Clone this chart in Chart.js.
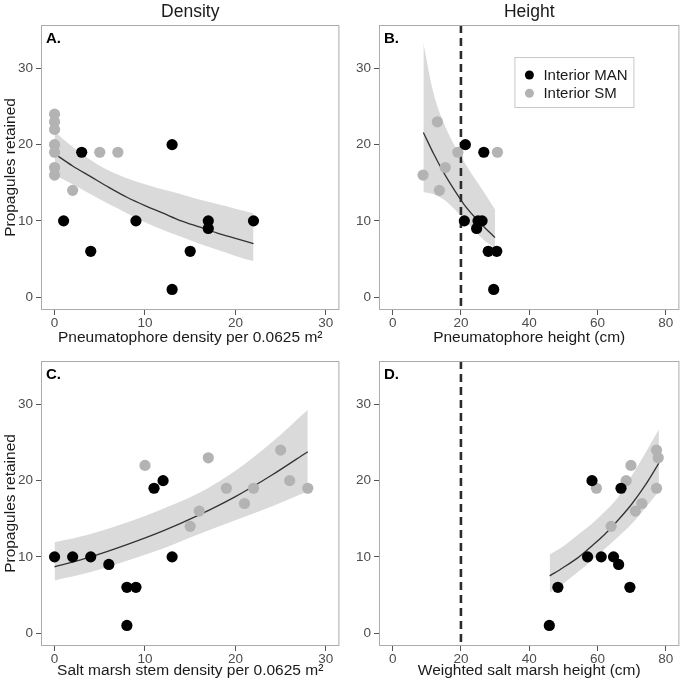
<!DOCTYPE html>
<html>
<head>
<meta charset="utf-8">
<script src="https://cdn.jsdelivr.net/npm/chart.js@4.4.1/dist/chart.umd.min.js"></script>
<style>
  body { margin: 0; background: #fff; }
  #wrap { position: relative; width: 685px; height: 687px; overflow: hidden; }
  canvas { position: absolute; }
</style>
</head>
<body>
<div id="wrap">
  <canvas id="chartA" width="345" height="350" style="left:0;top:0"></canvas>
  <canvas id="chartB" width="340" height="350" style="left:345px;top:0"></canvas>
  <canvas id="chartC" width="345" height="351" style="left:0;top:336px"></canvas>
  <canvas id="chartD" width="340" height="351" style="left:345px;top:336px"></canvas>
</div>
<script>
// ---- data ----
const seriesNames = ['Interior MAN', 'Interior SM'];

// A. pneumatophore density
const aManX = [3, 1, 4, 9, 13, 13, 15, 17, 17, 22];
const aManY = [19, 10, 6, 10, 20, 1, 6, 10, 9, 10];
const aSmX = [0, 0, 0, 0, 0, 0, 0, 2, 5, 7];
const aSmY = [24, 23, 22, 20, 19, 17, 16, 14, 19, 19];
const aFitX = [0, 2, 4, 6, 8, 10, 12, 14, 16, 18, 20, 22];
const aFitY = [18.8, 17.2, 15.8, 14.4, 13.1, 12.0, 11.0, 10.0, 9.2, 8.4, 7.7, 7.0];
const aFitHi = [21.7, 19.7, 18.0, 16.6, 15.6, 14.8, 14.1, 13.5, 12.8, 12.2, 11.6, 11.0];
const aFitLo = [16.0, 14.8, 13.5, 12.2, 11.0, 9.8, 8.8, 7.9, 7.0, 6.2, 5.4, 4.7];

// B. pneumatophore height
const bManX = [21.3, 26.7, 21.0, 25.0, 26.2, 24.6, 28.0, 30.5, 29.6];
const bManY = [20, 19, 10, 10, 10, 9, 6, 6, 1];
const bSmX = [8.9, 13.1, 13.7, 15.4, 19.1, 30.7];
const bSmY = [16, 23, 14, 17, 19, 19];
const bFitX = [9, 12, 15, 18, 21, 24, 27, 30];
const bFitY = [21.6, 18.8, 16.3, 14.1, 12.1, 10.5, 9.1, 7.8];
const bFitHi = [33.3, 26.7, 22.8, 20.0, 17.7, 15.6, 13.6, 11.5];
const bFitLo = [13.8, 13.5, 12.8, 11.6, 10.2, 8.7, 7.4, 6.4];

// C. salt marsh stem density
const cManX = [0, 2, 4, 6, 8, 9, 8, 11, 12, 13];
const cManY = [10, 10, 10, 9, 6, 6, 1, 19, 20, 10];
const cSmX = [10, 17, 15, 16, 19, 21, 22, 25, 26, 28];
const cSmY = [22, 23, 14, 16, 19, 17, 19, 24, 20, 19];
const cFitX = [0, 4, 8, 12, 16, 20, 24, 28];
const cFitY = [8.7, 10.0, 11.6, 13.4, 15.5, 17.9, 20.7, 23.8];
const cFitHi = [11.9, 13.0, 14.5, 16.3, 18.4, 21.3, 25.0, 29.3];
const cFitLo = [6.9, 8.0, 9.5, 11.1, 13.0, 14.8, 16.6, 18.6];

// D. weighted salt marsh height
const dManX = [45.9, 48.4, 58.4, 66.9, 57.1, 61.1, 64.7, 66.2, 69.5];
const dManY = [1, 6, 20, 19, 10, 10, 10, 9, 6];
const dSmX = [59.7, 64.0, 68.4, 69.8, 71.1, 73.0, 77.3, 77.8, 77.3];
const dSmY = [19, 14, 20, 22, 16, 17, 24, 23, 19];
const dFitX = [46, 50, 54, 58, 62, 66, 70, 74, 78];
const dFitY = [7.5, 8.6, 9.8, 11.3, 12.9, 14.8, 16.9, 19.4, 22.3];
const dFitHi = [10.3, 11.4, 12.8, 14.2, 15.9, 17.8, 20.6, 23.6, 26.7];
const dFitLo = [5.3, 6.5, 7.9, 9.4, 11.0, 12.6, 14.3, 16.4, 18.6];

// axes
const yTicks = [0, 10, 20, 30];
const yRange = [-1.7, 35.7];
const densityTicks = [0, 10, 20, 30];
const densityRange = [-1.5, 31.5];
const heightTicks = [0, 20, 40, 60, 80];
const heightRange = [-4, 84];
const vlineX = 20;

const FONT = "'Liberation Sans', Arial, Helvetica, sans-serif";
Chart.defaults.font.family = FONT;

function pairs(xs, ys) {
  return xs.map((x, i) => ({x: x, y: ys[i]}));
}

// frame, panel letter, column heading, legend
const decor = {
  id: 'decor',
  afterDraw(chart, args, opts) {
    const ctx = chart.ctx, ca = chart.chartArea;
    ctx.save();
    ctx.strokeStyle = '#ababab';
    ctx.lineWidth = 1;
    ctx.strokeRect(ca.left + 0.5, ca.top + 0.5, ca.right - ca.left - 1, ca.bottom - ca.top - 1);
    ctx.fillStyle = '#000';
    ctx.textAlign = 'left';
    ctx.textBaseline = 'alphabetic';
    ctx.font = 'bold 15px ' + FONT;
    ctx.fillText(opts.letter, ca.left + 5, ca.top + 18);
    if (opts.heading) {
      ctx.font = '17.5px ' + FONT;
      ctx.fillStyle = '#1a1a1a';
      ctx.textAlign = 'center';
      ctx.fillText(opts.heading, (ca.left + ca.right) / 2, ca.top - 8);
    }
    if (opts.legend) {
      const bx = ca.right - 165, by = ca.top + 32;
      ctx.strokeStyle = '#c8c8c8';
      ctx.strokeRect(bx + 0.5, by + 0.5, 119, 50);
      const items = chart.data.datasets.filter(d => d.label);
      ctx.font = '15px ' + FONT;
      ctx.textAlign = 'left';
      ctx.textBaseline = 'middle';
      items.forEach((d, i) => {
        const cy = by + 18 + i * 18.3;
        ctx.fillStyle = d.backgroundColor;
        ctx.beginPath();
        ctx.arc(bx + 15, cy, 4.5, 0, Math.PI * 2);
        ctx.fill();
        ctx.fillStyle = '#1a1a1a';
        ctx.fillText(d.label, bx + 29, cy + 1);
      });
    }
    ctx.restore();
  }
};

function xAxis(range, ticks, title, axisH, titlePad) {
  return {
    type: 'linear', position: 'bottom', min: range[0], max: range[1],
    afterBuildTicks: s => { s.ticks = ticks.map(v => ({value: v})); },
    afterFit: s => { s.height = axisH; s.paddingLeft = 0; s.paddingRight = 0; },
    ticks: {color: '#4d4d4d', font: {size: 13.5}, padding: 0, maxRotation: 0, autoSkip: false},
    grid: {drawOnChartArea: false, drawTicks: true, tickLength: 5, tickColor: '#555'},
    border: {display: false},
    title: {display: true, text: title, color: '#1a1a1a', font: {size: 15.5}, padding: {top: 0, bottom: titlePad}}
  };
}

function yAxis(axisW, withTitle) {
  return {
    type: 'linear', position: 'left', min: yRange[0], max: yRange[1],
    afterBuildTicks: s => { s.ticks = yTicks.map(v => ({value: v})); },
    afterFit: s => { s.width = axisW; s.paddingTop = 0; s.paddingBottom = 0; },
    ticks: {color: '#4d4d4d', font: {size: 13.5}, padding: 3},
    grid: {drawOnChartArea: false, drawTicks: true, tickLength: 5, tickColor: '#555'},
    border: {display: false},
    title: {display: withTitle, text: 'Propagules retained', color: '#1a1a1a', font: {size: 15.5}, padding: {top: 1, bottom: 0}}
  };
}

function panelDatasets(p) {
  const sets = [
    {label: seriesNames[0], type: 'scatter', data: pairs(p.manX, p.manY), backgroundColor: '#000000',
     pointRadius: 5.6, borderWidth: 0, order: 1},
    {label: seriesNames[1], type: 'scatter', data: pairs(p.smX, p.smY), backgroundColor: '#b3b3b3',
     pointRadius: 5.6, borderWidth: 0, order: 2},
    {type: 'line', data: pairs(p.fitX, p.fitY), borderColor: '#333333', borderWidth: 1.3,
     pointRadius: 0, fill: false, cubicInterpolationMode: 'monotone', order: 3},
    {type: 'line', data: pairs(p.fitX, p.hi), borderColor: 'rgba(0,0,0,0)', borderWidth: 0,
     backgroundColor: '#dadada', pointRadius: 0, fill: '+1', cubicInterpolationMode: 'monotone', order: 5},
    {type: 'line', data: pairs(p.fitX, p.lo), borderColor: 'rgba(0,0,0,0)', borderWidth: 0,
     pointRadius: 0, fill: false, cubicInterpolationMode: 'monotone', order: 6}
  ];
  if (p.vline) {
    sets.push({type: 'line', data: [{x: vlineX, y: yRange[1]}, {x: vlineX, y: yRange[0]}],
      borderColor: '#2b2b2b', borderWidth: 2.6, borderDash: [8, 5], pointRadius: 0, fill: false, order: 4});
  }
  return sets;
}

function makePanel(id, p) {
  const config = {
    type: 'scatter',
    data: {datasets: panelDatasets(p)},
    options: {
      responsive: false,
      animation: false,
      events: [],
      layout: {padding: {left: 0, top: 25, right: p.padRight, bottom: 0}},
      scales: {
        x: xAxis(p.xRange, p.xTicks, p.xTitle, p.axisH, p.titlePad),
        y: yAxis(p.axisW, p.yTitle)
      },
      plugins: {
        legend: {display: false},
        tooltip: {enabled: false},
        decor: {letter: p.letter, heading: p.heading, legend: p.legend}
      }
    },
    plugins: [decor]
  };
  return new Chart(document.getElementById(id), config);
}

makePanel('chartA', {manX: aManX, manY: aManY, smX: aSmX, smY: aSmY, fitX: aFitX, fitY: aFitY, hi: aFitHi, lo: aFitLo,
  xRange: densityRange, xTicks: densityTicks, xTitle: 'Pneumatophore density per 0.0625 m\u00B2',
  axisH: 40, titlePad: 3, axisW: 41, yTitle: true, padRight: 1, letter: 'A.', heading: 'Density'});

makePanel('chartB', {manX: bManX, manY: bManY, smX: bSmX, smY: bSmY, fitX: bFitX, fitY: bFitY, hi: bFitHi, lo: bFitLo,
  xRange: heightRange, xTicks: heightTicks, xTitle: 'Pneumatophore height (cm)', vline: true,
  axisH: 40, titlePad: 3, axisW: 34, yTitle: false, padRight: 4, letter: 'B.', heading: 'Height', legend: true});

makePanel('chartC', {manX: cManX, manY: cManY, smX: cSmX, smY: cSmY, fitX: cFitX, fitY: cFitY, hi: cFitHi, lo: cFitLo,
  xRange: densityRange, xTicks: densityTicks, xTitle: 'Salt marsh stem density per 0.0625 m\u00B2',
  axisH: 41, titlePad: 7, axisW: 41, yTitle: true, padRight: 1, letter: 'C.'});

makePanel('chartD', {manX: dManX, manY: dManY, smX: dSmX, smY: dSmY, fitX: dFitX, fitY: dFitY, hi: dFitHi, lo: dFitLo,
  xRange: heightRange, xTicks: heightTicks, xTitle: 'Weighted salt marsh height (cm)', vline: true,
  axisH: 41, titlePad: 7, axisW: 34, yTitle: false, padRight: 4, letter: 'D.'});
</script>
</body>
</html>
